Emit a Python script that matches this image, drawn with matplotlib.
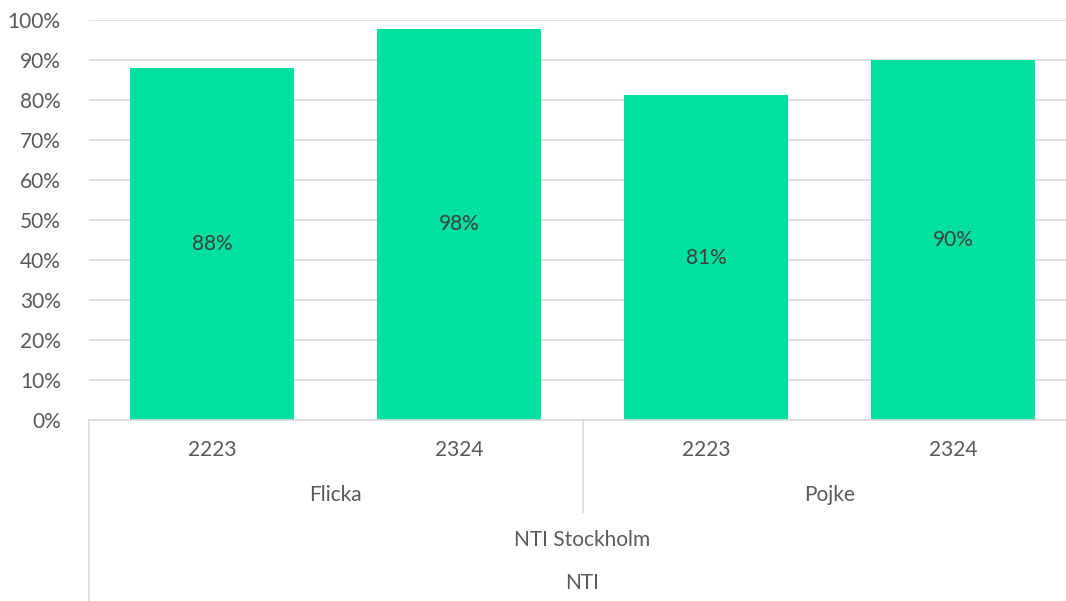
import matplotlib.pyplot as plt
import matplotlib.ticker as mticker

years = ["2223", "2324", "2223", "2324"]
genders = ["Flicka", "Pojke"]
school = "NTI Stockholm"
group = "NTI"
values = [0.88, 0.978, 0.812, 0.90]
labels = ["88%", "98%", "81%", "90%"]

bar_color = "#00E09E"
text_color = "#595959"
line_color = "#D9D9D9"

plt.rcParams["font.family"] = ["Lato", "DejaVu Sans"]

W, H = 1066, 601
left, plot_w = 88.5, 988  # plot area runs slightly past the right edge
fig = plt.figure(figsize=(W / 100, H / 100), dpi=100)
ax = fig.add_axes([left / W, 1 - 420 / H, plot_w / W, 400 / H])

x = range(len(values))
ax.bar(x, values, width=0.665, color=bar_color, zorder=2)
for i, (v, lab) in enumerate(zip(values, labels)):
    ax.text(i, v / 2, lab, ha="center", va="center", fontsize=15, color="#404040", zorder=3)

ax.set_xlim(-0.5, len(values) - 0.5)
ax.set_ylim(0, 1)
ax.yaxis.set_major_locator(mticker.MultipleLocator(0.1))
ax.yaxis.set_major_formatter(mticker.PercentFormatter(1.0, decimals=0))
ax.grid(axis="y", color=line_color, linewidth=1.2, zorder=0)
ax.tick_params(axis="y", length=0, labelsize=15, labelcolor=text_color, pad=20)
ax.set_xticks([])
for s in ["top", "right", "left"]:
    ax.spines[s].set_visible(False)
ax.spines["bottom"].set_color(line_color)
ax.spines["bottom"].set_linewidth(1.2)


# multi-level category labels below the axis
def fy(py):
    return 1 - py / H


def fx(xd):
    return (left + (xd + 0.5) * plot_w / len(values)) / W


for i, yr in enumerate(years):
    fig.text(fx(i), fy(450), yr, ha="center", va="center", fontsize=15, color=text_color)
for j, g in enumerate(genders):
    fig.text(fx(2 * j + 0.5), fy(495), g, ha="center", va="center", fontsize=15, color=text_color)
fig.text(fx(1.5), fy(540), school, ha="center", va="center", fontsize=15, color=text_color)
fig.text(fx(1.5), fy(583), group, ha="center", va="center", fontsize=15, color=text_color)

fig.add_artist(plt.Line2D([left / W, left / W], [fy(420), 0], color=line_color, lw=1.2))
fig.add_artist(plt.Line2D([fx(1.5), fx(1.5)], [fy(420), fy(512)], color=line_color, lw=1.2))

fig.savefig("out.png", dpi=100)
